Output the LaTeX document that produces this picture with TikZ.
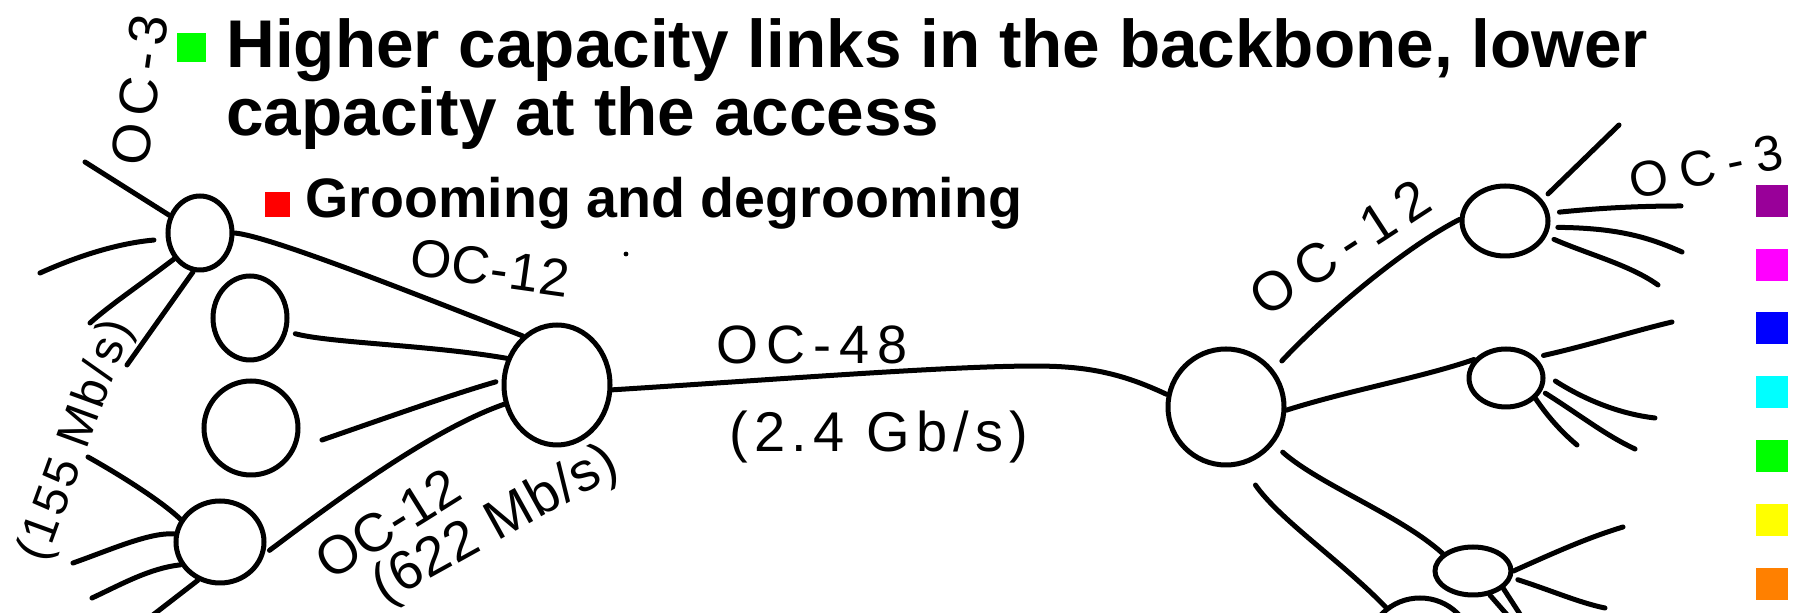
\documentclass[tikz,border=0pt]{standalone}
\usepackage{fontspec}
\setmainfont{Liberation Sans}
\newfontfamily\handfont{Liberation Sans}
\usetikzlibrary{shapes.geometric}
\definecolor{palA}{RGB}{153,0,153}
\definecolor{palB}{RGB}{255,0,255}
\definecolor{palC}{RGB}{0,0,255}
\definecolor{palD}{RGB}{0,255,255}
\definecolor{palE}{RGB}{0,255,0}
\definecolor{palF}{RGB}{255,255,0}
\definecolor{palG}{RGB}{255,128,0}
\definecolor{bulgreen}{RGB}{0,255,0}
\definecolor{bulred}{RGB}{255,0,0}
\newcommand\hw[2]{\fontsize{#1pt}{#1pt}\selectfont\handfont\addfontfeature{LetterSpace=#2}}
\begin{document}
\begin{tikzpicture}[x=0.5pt,y=-0.5pt,
  pen/.style={line width=2.5pt,line cap=round,line join=round},
  ring/.style={ellipse,draw,line width=2.5pt,inner sep=0pt},
  sqbox/.style={inner sep=0pt,minimum size=#1},
  handlabel/.style={inner sep=0pt,anchor=center},
  titletext/.style={anchor=base west,inner sep=0pt,font=\bfseries\fontsize{33.75pt}{33.75pt}\selectfont},
  subtext/.style={anchor=base west,inner sep=0pt,font=\bfseries\fontsize{27.8pt}{27.8pt}\selectfont}]
\useasboundingbox (0,0) rectangle (1795,613);
\fill[white] (0,0) rectangle (1795,613);
\clip (0,0) rectangle (1795,613);

% slide text
\node[sqbox=14.5pt,fill=bulgreen] (bulA) at (191.5,47.5) {};
\node[titletext] (t1) at (226,68) {Higher capacity links in the backbone, lower};
\node[titletext] (t2) at (226,136) {capacity at the access};
\node[sqbox=12.5pt,fill=bulred] (bulB) at (277.5,204.5) {};
\node[subtext] (t3) at (305,218) {Grooming and degrooming};

% palette
\node[sqbox=16pt,fill=palA] (p1) at (1772,201) {};
\node[sqbox=16pt,fill=palB] (p2) at (1772,265) {};
\node[sqbox=16pt,fill=palC] (p3) at (1772,328) {};
\node[sqbox=16pt,fill=palD] (p4) at (1772,392) {};
\node[sqbox=16pt,fill=palE] (p5) at (1772,456) {};
\node[sqbox=16pt,fill=palF] (p6) at (1772,520) {};
\node[sqbox=16pt,fill=palG] (p7) at (1772,584) {};

% hand-drawn circles
\node[ring,minimum width=32pt,minimum height=37pt] (A) at (200,233) {};
\node[ring,minimum width=37pt,minimum height=42pt] (B) at (250,318) {};
\node[ring,minimum width=47pt,minimum height=47pt] (C) at (251,428) {};
\node[ring,minimum width=44pt,minimum height=41pt] (D) at (220,542) {};
\node[ring,minimum width=53pt,minimum height=60pt] (E) at (557,385) {};
\node[ring,minimum width=58pt,minimum height=58pt] (F) at (1226,407) {};
\node[ring,minimum width=43pt,minimum height=35pt] (G) at (1505,221) {};
\node[ring,minimum width=37pt,minimum height=29pt] (H) at (1506,378) {};
\node[ring,minimum width=38pt,minimum height=24pt] (I) at (1473,571) {};
\node[ring,minimum width=52pt,minimum height=50pt] (J) at (1420,648) {};

% free ends
\coordinate (a1) at (85,162);
\coordinate (a2) at (40,273);
\coordinate (a3) at (90,323);
\coordinate (a4) at (127,365);
\coordinate (d1) at (88,457);
\coordinate (d2) at (73,563);
\coordinate (d3) at (92,598);
\coordinate (d4) at (140,625);
\coordinate (c1) at (322,440);
\coordinate (g1) at (1619,125);
\coordinate (g2) at (1681,206);
\coordinate (g3) at (1682,252);
\coordinate (g4) at (1658,285);
\coordinate (h1) at (1672,322);
\coordinate (h2) at (1655,418);
\coordinate (h3) at (1635,449);
\coordinate (h4) at (1577,445);
\coordinate (i1) at (1623,527);
\coordinate (i2) at (1605,608);
\coordinate (i3) at (1527,625);
\coordinate (i4) at (1516,625);
\coordinate (ee) at (1065,367);

% backbone links
\draw[pen] (A.east) .. controls (270,236) and (420,296) .. (E.125);
\draw[pen,shorten <=4pt] (B.-20) .. controls (330,343) and (430,345) .. (E.152);
\draw[pen,shorten >=3pt] (c1) .. controls (380,420) and (450,395) .. (E.175);
\draw[pen,shorten <=3pt] (D.-15) .. controls (330,505) and (430,430) .. (E.200);
\draw[pen] (E.-5) .. controls (800,378) and (1000,362) .. (ee) .. controls (1110,370) and (1140,382) .. (F.168);
\draw[pen,shorten <=6pt] (F.38) .. controls (1320,320) and (1400,250) .. (G.178);
\draw[pen] (F.-3) .. controls (1350,390) and (1420,378) .. (H.150);
\draw[pen,shorten <=6pt] (F.-38) .. controls (1320,485) and (1400,515) .. (I.150);
\draw[pen,shorten <=12pt] (F.-75) .. controls (1280,520) and (1340,560) .. (J.130);

% access spokes, left
\draw[pen] (a1) -- (A.150);
\draw[pen,shorten >=6pt] (a2) .. controls (80,255) and (120,243) .. (A.190);
\draw[pen] (A.-135) .. controls (140,285) and (110,305) .. (a3);
\draw[pen] (A.-100) -- (a4);
\draw[pen] (d1) .. controls (120,475) and (160,500) .. (D.150);
\draw[pen] (d2) .. controls (110,550) and (150,532) .. (D.170);
\draw[pen] (d3) .. controls (120,585) and (150,568) .. (D.-150);
\draw[pen] (d4) -- (D.-120);

% access spokes, right
\draw[pen,shorten <=4pt] (G.30) -- (g1);
\draw[pen,shorten <=5pt] (G.10) .. controls (1600,208) and (1640,206) .. (g2);
\draw[pen,shorten <=4pt] (G.-8) .. controls (1620,228) and (1650,238) .. (g3);
\draw[pen,shorten <=4pt] (G.-20) .. controls (1590,255) and (1630,265) .. (g4);
\draw[pen,shorten <=4pt] (H.35) .. controls (1590,345) and (1630,332) .. (h1);
\draw[pen,shorten <=6pt] (H.5) .. controls (1585,400) and (1620,414) .. (h2);
\draw[pen,shorten <=2pt] (H.-20) .. controls (1580,415) and (1605,435) .. (h3);
\draw[pen] (H.-35) .. controls (1550,420) and (1565,435) .. (h4);
\draw[pen] (I.0) .. controls (1560,550) and (1590,537) .. (i1);
\draw[pen,shorten <=3pt] (I.-10) .. controls (1550,590) and (1580,603) .. (i2);
\draw[pen] (I.-30) -- (i3);
\draw[pen] (I.-55) -- (i4);

% stray dot
\fill (626,254) circle (1.2pt);

% handwritten labels
\node[handlabel,rotate=82] (l1) at (140,90) {\hw{27}{14}OC-3};
\node[handlabel,rotate=70] (l2) at (77,441) {\hw{24}{6}(155 Mb/s)};
\node[handlabel,rotate=-8] (l3) at (490,268) {\hw{26.5}{2}OC-12};
\node[handlabel] (l4) at (812,345) {\hw{27}{15}OC-48};
\node[handlabel] (l5) at (879,437) {\hw{28}{11}(2.4 Gb/s)};
\node[handlabel,rotate=32] (l6) at (388,524) {\hw{27}{0}OC-12};
\node[handlabel,rotate=29] (l7) at (496,526) {\hw{27.5}{2}(622 Mb/s)};
\node[handlabel,rotate=33] (l8) at (1340,248) {\hw{27.5}{18}OC-12};
\node[handlabel,rotate=12] (l9) at (1706,167) {\hw{25}{24}OC-3};
\end{tikzpicture}
\end{document}
